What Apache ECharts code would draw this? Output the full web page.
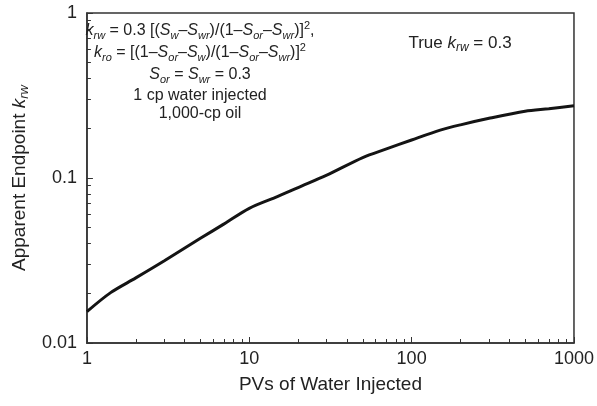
<!DOCTYPE html>
<html>
<head>
<meta charset="utf-8">
<script src="https://cdn.jsdelivr.net/npm/echarts@6/dist/echarts.min.js"></script>
<style>
  html, body { margin: 0; padding: 0; background: #fff; }
  #chart { width: 597px; height: 406px; }
</style>
</head>
<body>
<div id="chart"></div>
<script>
// Pore volumes of water injected and the apparent endpoint water relative permeability
const pvInjected = [1, 1.4, 2, 3, 5, 7, 10, 15, 20, 30, 50, 70, 100, 150, 200, 300, 500, 700, 1000];
const apparentKrw = [0.0155, 0.0202, 0.0248, 0.0315, 0.0431, 0.0527, 0.0655, 0.0773, 0.0875, 0.104,
                     0.133, 0.150, 0.170, 0.195, 0.210, 0.230, 0.254, 0.263, 0.274];

// Tick labels for both log axes
const xTickLabels = ['1', '10', '100', '1000'];
const yTickLabels = ['0.01', '0.1', '1'];

// Decades and the multipliers used for the small inner ticks
const xDecades = [1, 10, 100, 1000];
const yDecades = [0.01, 0.1, 1];
const minorSteps = [2, 3, 4, 5, 6, 7, 8, 9];

function withMinor(decades) {
  const out = [];
  decades.forEach((d, i) => {
    out.push(d);
    if (i < decades.length - 1) minorSteps.forEach(m => out.push(+(d * m).toPrecision(6)));
  });
  return out;
}

function labelFor(list) {
  return function (v) {
    for (const s of list) if (Math.abs(Math.log10(v) - Math.log10(+s)) < 1e-6) return s;
    return '';
  };
}

const FONT = '"Liberation Sans", Arial, Helvetica, sans-serif';
const INK = '#222';
const AXIS = '#333';

const chart = echarts.init(document.getElementById('chart'), null, { renderer: 'canvas' });

const baseTick = { show: true, inside: true, length: 4, lineStyle: { color: AXIS, width: 1 } };

chart.setOption({
  animation: false,
  backgroundColor: '#fff',
  grid: {
    left: 81, right: 23, top: 13, bottom: 63,
    show: true, borderColor: AXIS, borderWidth: 1.5, backgroundColor: 'transparent'
  },
  xAxis: [{
    type: 'log', logBase: 10, min: 1, max: 1000,
    position: 'bottom',
    name: 'PVs of Water Injected',
    nameLocation: 'middle', nameGap: 32,
    nameTextStyle: { fontFamily: FONT, fontSize: 19, color: INK },
    axisLine: { show: true, lineStyle: { color: AXIS, width: 1.5 } },
    axisTick: Object.assign({}, baseTick, { customValues: withMinor(xDecades) }),
    axisLabel: {
      show: true, margin: 7, fontFamily: FONT, fontSize: 18, color: INK,
      customValues: xDecades, formatter: labelFor(xTickLabels)
    },
    splitLine: { show: false }
  }, {
    type: 'log', logBase: 10, min: 1, max: 1000,
    position: 'bottom',
    axisLine: { show: false },
    axisTick: Object.assign({}, baseTick, { length: 6, customValues: xDecades }),
    axisLabel: { show: false },
    splitLine: { show: false }
  }],
  yAxis: [{
    type: 'log', logBase: 10, min: 0.01, max: 1,
    position: 'left',
    name: '{n|Apparent Endpoint }{i|k}{s|rw}',
    nameLocation: 'middle', nameGap: 48,
    nameTextStyle: {
      fontFamily: FONT, fontSize: 19, color: INK,
      rich: {
        n: { fontFamily: FONT, fontSize: 19, color: INK, lineHeight: 24 },
        i: { fontFamily: FONT, fontSize: 19, fontStyle: 'italic', color: INK, lineHeight: 24 },
        s: { fontFamily: FONT, fontSize: 13, fontStyle: 'italic', color: INK, lineHeight: 24, padding: [10, 0, 0, 0] }
      }
    },
    axisLine: { show: true, lineStyle: { color: AXIS, width: 1.5 } },
    axisTick: Object.assign({}, baseTick, { customValues: withMinor(yDecades) }),
    axisLabel: {
      show: true, margin: 10, fontFamily: FONT, fontSize: 18, color: INK,
      customValues: yDecades, formatter: labelFor(yTickLabels)
    },
    splitLine: { show: false }
  }, {
    type: 'log', logBase: 10, min: 0.01, max: 1,
    position: 'left',
    axisLine: { show: false },
    axisTick: Object.assign({}, baseTick, { length: 6, customValues: yDecades }),
    axisLabel: { show: false },
    splitLine: { show: false }
  }],
  series: [{
    type: 'line',
    xAxisIndex: 0, yAxisIndex: 0,
    data: pvInjected.map((x, i) => [x, apparentKrw[i]]),
    showSymbol: false,
    smooth: 0.3,
    lineStyle: { color: '#141414', width: 3 },
    z: 5
  }],
  graphic: [{
    type: 'text',
    left: 'auto',
    x: 200, y: 20,
    style: {
      text: [
        '{i|k}{s|rw}{n| = 0.3 [(}{i|S}{s|w}{n|\u2013}{i|S}{s|wr}{n|)/(1\u2013}{i|S}{s|or}{n|\u2013}{i|S}{s|wr}{n|)]}{p|2}{n|,}',
        '{i|k}{s|ro}{n| = [(1\u2013}{i|S}{s|or}{n|\u2013}{i|S}{s|w}{n|)/(1\u2013}{i|S}{s|or}{n|\u2013}{i|S}{s|wr}{n|)]}{p|2}',
        '{i|S}{s|or}{n| = }{i|S}{s|wr}{n| = 0.3}',
        '{t|1 cp water injected}',
        '{t|1,000-cp oil}'
      ].join('\n'),
      align: 'center', textAlign: 'center',
      verticalAlign: 'top', textVerticalAlign: 'top',
      font: '16px ' + FONT,
      fill: INK,
      rich: {
        n: { fontFamily: FONT, fontSize: 16, color: INK, lineHeight: 22 },
        i: { fontFamily: FONT, fontSize: 16, fontStyle: 'italic', color: INK, lineHeight: 22 },
        s: { fontFamily: FONT, fontSize: 11, fontStyle: 'italic', color: INK, lineHeight: 22, padding: [9, 0, 0, 0] },
        p: { fontFamily: FONT, fontSize: 11, color: INK, lineHeight: 22, padding: [0, 0, 10, 0] },
        t: { fontFamily: FONT, fontSize: 16, color: INK, lineHeight: 18.5 }
      }
    },
    z: 10
  }, {
    type: 'text',
    x: 460, y: 43,
    style: {
      text: '{n|True }{i|k}{s|rw}{n| = 0.3}',
      align: 'center', textAlign: 'center',
      verticalAlign: 'middle', textVerticalAlign: 'middle',
      font: '17px ' + FONT,
      fill: INK,
      rich: {
        n: { fontFamily: FONT, fontSize: 17, color: INK, lineHeight: 22 },
        i: { fontFamily: FONT, fontSize: 17, fontStyle: 'italic', color: INK, lineHeight: 22 },
        s: { fontFamily: FONT, fontSize: 12, fontStyle: 'italic', color: INK, lineHeight: 22, padding: [9, 0, 0, 0] }
      }
    },
    z: 10
  }]
});
</script>
</body>
</html>
